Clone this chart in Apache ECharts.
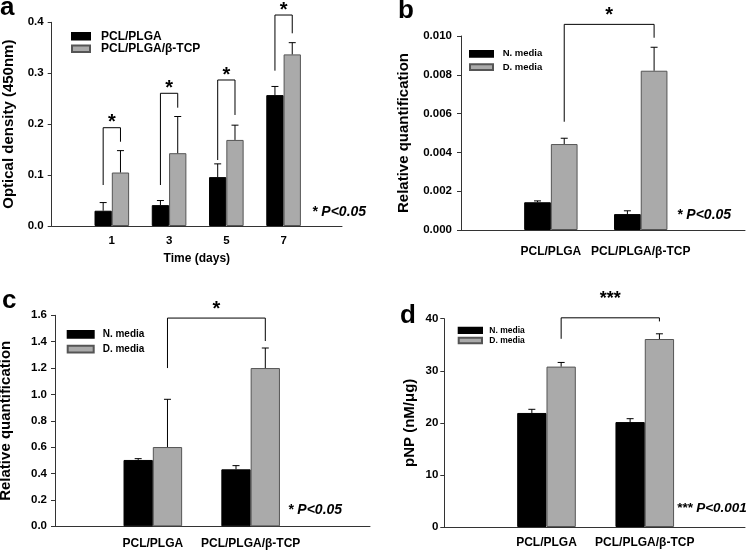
<!DOCTYPE html>
<html>
<head>
<meta charset="utf-8">
<script src="https://cdn.jsdelivr.net/npm/echarts@6/dist/echarts.min.js"></script>
<style>html,body{margin:0;padding:0;background:#fff}#c{width:750px;height:554px}</style>
</head>
<body>
<div id="c"></div>
<script>
// ---------- data ----------
const daysX = [1, 3, 5, 7];
const dayLabels = ['1', '3', '5', '7'];
const aPlga = [0.030, 0.041, 0.096, 0.257];
const aPlgaErr = [0.016, 0.009, 0.026, 0.017];
const aTcp = [0.105, 0.143, 0.169, 0.337];
const aTcpErr = [0.043, 0.072, 0.029, 0.023];

const groupX = [1, 2];
const groupLabels = ['PCL/PLGA', 'PCL/PLGA/β-TCP'];
const bN = [0.00143, 0.00082];
const bNErr = [0.00007, 0.00017];
const bD = [0.00443, 0.00821];
const bDErr = [0.00030, 0.00121];

const cN = [0.503, 0.432];
const cNErr = [0.010, 0.028];
const cD = [0.601, 1.200];
const cDErr = [0.362, 0.152];

const dN = [21.9, 20.15];
const dNErr = [0.7, 0.65];
const dD = [30.8, 36.1];
const dDErr = [0.8, 1.0];

// brackets: [xLeft, xRight, yLeftBottom, yRightBottom, yTop]
const aBrackets = [[1, 1, 0.0805, 0.1655, 0.193], [3, 3, 0.0805, 0.2323, 0.2606], [5, 5, 0.1296, 0.218, 0.2867], [7, 7, 0.305, 0.3784, 0.4143]];
const bBrackets = [[1, 2, 0.00558, 0.00991, 0.0106]];
const cBrackets = [[1, 2, 1.20, 1.405, 1.579]];
const dBrackets = [[1, 2, 36.14, 39.48, 40.17]];

const yTicksA = { min: 0, max: 0.4, interval: 0.1 };
const yTicksB = { min: 0, max: 0.010, interval: 0.002 };
const yTicksC = { min: 0, max: 1.6, interval: 0.2 };
const yTicksD = { min: 0, max: 40, interval: 10 };

// ---------- chart ----------
const FONT = 'Liberation Sans, Arial, sans-serif';
const GREY = '#aaaaaa';
const AX = '#333';

const grids = [
  { left: 51.7, top: 22.3, width: 290.3, height: 203.7, outerBoundsMode: 'none', containLabel: false },
  { left: 461, top: 36, width: 284, height: 194, outerBoundsMode: 'none', containLabel: false },
  { left: 55, top: 315.3, width: 315, height: 211, outerBoundsMode: 'none', containLabel: false },
  { left: 444.3, top: 318.7, width: 300.7, height: 208.3, outerBoundsMode: 'none', containLabel: false }
];

function xAxisDef(gi, min, max, vals, labels, fontSize, margin, name) {
  return {
    type: 'value', gridIndex: gi, min: min, max: max,
    splitLine: { show: false },
    axisLine: { show: true, onZero: false, lineStyle: { color: AX, width: 1 } },
    axisTick: { show: false },
    axisLabel: {
      customValues: vals, margin: margin,
      formatter: function (v) { const i = vals.indexOf(v); return i >= 0 ? labels[i] : ''; },
      color: '#000', fontFamily: FONT, fontWeight: 'bold', fontSize: fontSize
    },
    name: name || '', nameLocation: 'middle', nameGap: 27,
    nameTextStyle: { color: '#000', fontFamily: FONT, fontWeight: 'bold', fontSize: 12 }
  };
}
function yAxisDef(gi, t, dec, name, nameGap, margin) {
  return {
    type: 'value', gridIndex: gi, min: t.min, max: t.max, interval: t.interval,
    splitLine: { show: false },
    axisLine: { show: true, onZero: false, lineStyle: { color: AX, width: 1 } },
    axisTick: { show: true, inside: false, length: 4, lineStyle: { color: AX } },
    axisLabel: {
      margin: margin, formatter: function (v) { return v.toFixed(dec); },
      color: '#000', fontFamily: FONT, fontWeight: 'bold', fontSize: 11.5
    },
    name: name, nameLocation: 'middle', nameGap: nameGap,
    nameTextStyle: { color: '#000', fontFamily: FONT, fontWeight: 'bold', fontSize: 15 }
  };
}

function barSeries(name, gi, xs, ys, color, width) {
  return {
    type: 'bar', name: name, xAxisIndex: gi, yAxisIndex: gi,
    data: xs.map((x, i) => [x, ys[i]]),
    barWidth: width, barGap: '0%',
    itemStyle: { color: color, borderColor: color === '#000' ? '#000' : '#555', borderWidth: 1 },
    z: 2
  };
}
function errSeries(gi, xs, ys, es, offPx) {
  return {
    type: 'custom', xAxisIndex: gi, yAxisIndex: gi, z: 3, silent: true,
    data: xs.map((x, i) => [x, ys[i], es[i]]),
    renderItem: function (params, api) {
      const x = api.value(0), y = api.value(1), e = api.value(2);
      const p0 = api.coord([x, y]), p1 = api.coord([x, y + e]);
      const cx = p0[0] + offPx;
      return {
        type: 'group', children: [
          { type: 'line', shape: { x1: cx, y1: p0[1], x2: cx, y2: p1[1] }, style: { stroke: '#000', lineWidth: 1 } },
          { type: 'line', shape: { x1: cx - 3.5, y1: p1[1], x2: cx + 3.5, y2: p1[1] }, style: { stroke: '#000', lineWidth: 1 } }
        ]
      };
    }
  };
}
function bracketSeries(gi, arr, offL, offR, star, starSize, starGap) {
  return {
    type: 'custom', xAxisIndex: gi, yAxisIndex: gi, z: 4, silent: true,
    data: arr,
    renderItem: function (params, api) {
      const xl = api.value(0), xr = api.value(1), yl = api.value(2), yr = api.value(3), yt = api.value(4);
      const pl = api.coord([xl, yl]), pr = api.coord([xr, yr]), ptL = api.coord([xl, yt]);
      const lx = pl[0] + offL, rx = pr[0] + offR, ty = ptL[1];
      return {
        type: 'group', children: [
          { type: 'polyline', shape: { points: [[lx, pl[1]], [lx, ty], [rx, ty], [rx, pr[1]]] }, style: { stroke: '#000', lineWidth: 1, fill: null } },
          { type: 'text', style: { text: star, x: (lx + rx) / 2, y: ty - starGap, align: 'center', verticalAlign: 'middle', font: 'bold ' + starSize + 'px ' + FONT, fill: '#000' } }
        ]
      };
    }
  };
}
function legendDef(names, left, top, w, h, fs, lh, pad) {
  return {
    data: names, orient: 'vertical', left: left, top: top, padding: 0, itemGap: 0,
    itemWidth: w, itemHeight: h, icon: 'rect', selectedMode: false,
    textStyle: { color: '#000', fontFamily: FONT, fontWeight: 'bold', fontSize: fs, lineHeight: lh, padding: [0, 0, 0, pad] }
  };
}
function txt(text, x, y, size, italic) {
  return { type: 'text', x: x, y: y, style: { text: text, font: (italic ? 'italic ' : '') + 'bold ' + size + 'px ' + FONT, fill: '#000', verticalAlign: 'middle' } };
}

const bwA = 17.3, bwB = 26.7, bwC = 29.3, bwD = 29.3;

const option = {
  animation: false,
  backgroundColor: '#fff',
  grid: grids,
  xAxis: [
    xAxisDef(0, -1.1, 9.04, daysX, dayLabels, 11.5, 9, 'Time (days)'),
    xAxisDef(1, 0, 3.16, groupX, groupLabels, 12, 16),
    xAxisDef(2, 0, 3.22, groupX, groupLabels, 12, 11),
    xAxisDef(3, -0.04, 3.02, groupX, groupLabels, 12, 10)
  ],
  yAxis: [
    yAxisDef(0, yTicksA, 1, 'Optical density (450nm)', 35, 8),
    yAxisDef(1, yTicksB, 3, 'Relative quantification', 49.5, 9),
    yAxisDef(2, yTicksC, 1, 'Relative quantification', 41.5, 8),
    yAxisDef(3, yTicksD, 0, 'pNP (nM/μg)', 26.5, 6)
  ],
  legend: [
    legendDef(['PCL/PLGA', 'PCL/PLGA/β-TCP'], 71, 30, 18, 6.5, 12, 12.5, 6),
    legendDef(['N. media', 'D. media'], 469, 47.1, 23, 5.7, 9.5, 13.4, 4.7),
    legendDef(['N. media', 'D. media'], 66.7, 327, 26, 6.7, 10, 14.7, 4),
    legendDef(['N. media', 'D. media'], 457.7, 325.2, 23.3, 5.3, 8.5, 10.2, 2.3)
  ],
  series: [
    barSeries('PCL/PLGA', 0, daysX, aPlga, '#000', bwA),
    barSeries('PCL/PLGA/β-TCP', 0, daysX, aTcp, GREY, bwA),
    errSeries(0, daysX, aPlga, aPlgaErr, -bwA / 2),
    errSeries(0, daysX, aTcp, aTcpErr, bwA / 2),
    bracketSeries(0, aBrackets, -bwA / 2, bwA / 2, '*', 20, 5),

    barSeries('N. media', 1, groupX, bN, '#000', bwB),
    barSeries('D. media', 1, groupX, bD, GREY, bwB),
    errSeries(1, groupX, bN, bNErr, -bwB / 2),
    errSeries(1, groupX, bD, bDErr, bwB / 2),
    bracketSeries(1, bBrackets, bwB / 2, bwB / 2, '*', 20, 8.5),

    barSeries('N. media', 2, groupX, cN, '#000', bwC),
    barSeries('D. media', 2, groupX, cD, GREY, bwC),
    errSeries(2, groupX, cN, cNErr, -bwC / 2),
    errSeries(2, groupX, cD, cDErr, bwC / 2),
    bracketSeries(2, cBrackets, bwC / 2, bwC / 2, '*', 20, 8.5),

    barSeries('N. media', 3, groupX, dN, '#000', bwD),
    barSeries('D. media', 3, groupX, dD, GREY, bwD),
    errSeries(3, groupX, dN, dNErr, -bwD / 2),
    errSeries(3, groupX, dD, dDErr, bwD / 2),
    bracketSeries(3, dBrackets, bwD / 2, bwD / 2, '***', 18, 19)
  ],
  graphic: [
    txt('a', 0, 7.6, 26, false),
    txt('b', 398, 10.9, 26, false),
    txt('c', 2, 301, 26, false),
    txt('d', 400, 316, 26, false),
    txt('* P<0.05', 312, 212, 14, true),
    txt('* P<0.05', 677, 215, 14, true),
    txt('* P<0.05', 288, 509.7, 14, true),
    txt('*** P<0.001', 676.7, 508.7, 13.5, true)
  ]
};

const chart = echarts.init(document.getElementById('c'), null, { renderer: 'canvas' });
chart.setOption(option);
</script>
</body>
</html>
